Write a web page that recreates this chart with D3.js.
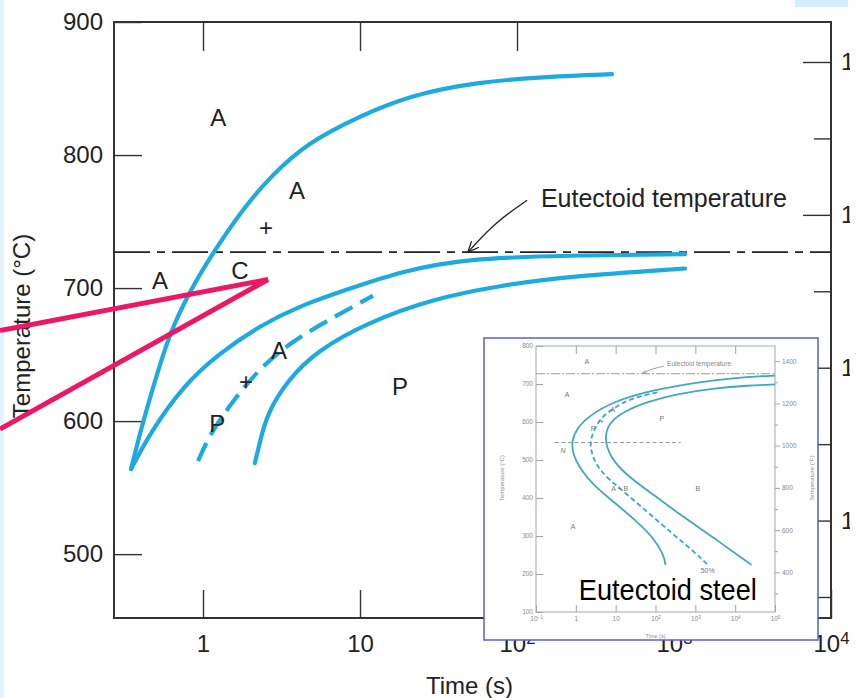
<!DOCTYPE html>
<html>
<head>
<meta charset="utf-8">
<script src="https://cdn.jsdelivr.net/npm/d3@7"></script>
<style>
body { margin: 0; background: #fff; }
svg { display: block; font-family: "Liberation Sans", Arial, sans-serif; }
</style>
</head>
<body>
<div id="chart"></div>
<script>
// main diagram: [time (s), temperature (°C)]
var upperCurve = [[0.348,564],[0.415,600],[0.517,637.7],[0.616,666.5],[0.826,698.2],[1.192,729],[1.85,761.5],
  [2.75,785],[4.6,809],[9.85,829],[20.8,845],[57.3,855],[157,859],[403,860.8]];
var startCurve = [[0.348,564],[0.46,591],[0.746,626.6],[1.283,651.4],[2.31,671.8],[4.15,686.8],[8.64,699.6],
  [18,712.4],[48,722.2],[208,724.5],[1175,725.5]];
var finishCurve = [[2.14,568.5],[2.31,585],[2.56,605.5],[3.43,630.3],[5.32,652.9],[11.1,674],[29.2,692],
  [78,701.9],[208,708.7],[1175,714.7]];
var halfCurve = [[0.93,570],[1.108,590.4],[1.553,615.3],[2.31,640.1],[3.74,660.5],[6.73,677.8],[12.1,694.3]];
var eutectoidTemp = 727;
var yTicks = [900, 800, 700, 600, 500];
var xTicks = [1, 10, 100, 1000, 10000];
var topTicks = [1, 10, 100];
var fMajor = [1600, 1400, 1200, 1000];
var fMinor = [1500, 1300, 1100, 900];
var regionLabels = [["A",1.25,828.4],["A",3.97,773.4],["+",2.52,745.6],["A",0.532,705.6],["C",1.72,713.2],
  ["A",3.05,653],["+",1.88,629.6],["P",1.23,598],["P",18,625.8]];
var eutLabel = [142, 767.4];
var eutArrow = [[116,766],[72.4,749.3],[48.7,727]];
var pinkPointer = [[0.0509,668],[2.59,706.4],[0.0509,594]];

// inset (TTT diagram, eutectoid steel)
var inStart = [[1e5,722],[2.1e4,719],[3020,710.5],[427,697],[61.7,680],[8.8,653.5],[2.26,618],[1.04,583],
  [0.776,548],[0.855,513],[1.26,478],[2.75,434],[8.8,390],[34.7,338],[91,294],[162,250],[178,224]];
var inHalf = [[110,678],[23.4,662],[8.8,636],[4.07,610],[2.75,574.5],[2.26,548],[2.51,513],[4.07,469],
  [12.9,425],[61.7,364],[288,303],[933,259],[2040,224]];
var inFinish = [[1e5,699],[2.1e4,696],[3020,689],[427,675.5],[61.7,653.5],[15.8,627],[7.24,601],[5.37,566],
  [6.03,531],[8.8,496],[23.4,452],[91,408],[427,355],[3020,294],[25700,224]];
var inNoseLine = [[0.3,546],[430,546]];
var inYTicks = [100,200,300,400,500,600,700,800];
var inXTicks = [0.1,1,10,100,1000,10000,100000];
var inFMajor = [400,600,800,1000,1200,1400];
var inFMinor = [300,500,700,900,1100,1300];
var inLabels = [["A",1.9,758],["A",0.6,671],["P",2.7,584],["+",4.5,600],["A",8.5,632],["P",145,610],
  ["N",0.48,526],["A + B",12.6,426],["B",1150,426],["A",0.85,326],["50%",2040,208]];
var inEutLabel = [195, 753];
var inEutArrow = [[162,747],[90,741],[48,729]];
var inTitle = [204, 131];

var W = 856, H = 698;
var svg = d3.select("#chart").append("svg").attr("width", W).attr("height", H);

// slide remnants
svg.append("rect").attr("x",0).attr("y",0).attr("width",4).attr("height",H).attr("fill","#e2f4fb");
svg.append("rect").attr("x",795).attr("y",0).attr("width",53).attr("height",7).attr("fill","#d6f0fb");

var defs = svg.append("defs");
defs.append("clipPath").attr("id","pageclip").append("rect").attr("x",0).attr("y",0).attr("width",850).attr("height",H);
defs.append("marker").attr("id","arr").attr("viewBox","0 0 12 10").attr("refX",11).attr("refY",5)
  .attr("markerWidth",12).attr("markerHeight",10).attr("markerUnits","userSpaceOnUse").attr("orient","auto")
  .append("path").attr("d","M0,0 L11,5 L0,10").attr("fill","none").attr("stroke","#222").attr("stroke-width",1.3);
defs.append("marker").attr("id","arrs").attr("viewBox","0 0 12 10").attr("refX",11).attr("refY",5)
  .attr("markerWidth",5).attr("markerHeight",4).attr("markerUnits","userSpaceOnUse").attr("orient","auto")
  .append("path").attr("d","M0,0 L11,5 L0,10").attr("fill","none").attr("stroke","#888").attr("stroke-width",1.5);

var x = d3.scaleLog().domain([0.271, 10000]).range([114, 831]);
var y = d3.scaleLinear().domain([900, 452]).range([22, 618]);
var fy = d3.scaleLinear().domain([1600, 900]).range([62, 597]);

var line = d3.line().x(function(d){ return x(d[0]); }).y(function(d){ return y(d[1]); })
  .curve(d3.curveBasis);

function supText(sel) {
  sel.each(function(d) {
    var e = Math.round(Math.log10(d));
    var t = d3.select(this);
    if (e >= 2 || e < 0) {
      t.text("10");
      t.append("tspan").attr("dy","-0.45em").attr("font-size","0.7em").text(e < 0 ? "\u2212" + (-e) : e);
    }
  });
}

// axes
var main = svg.append("g").attr("class","main");
var gl = main.append("g").attr("transform","translate(" + x.range()[0] + ",0)")
  .call(d3.axisLeft(y).tickValues(yTicks).tickSize(-28).tickSizeOuter(0).tickPadding(11));
var gb = main.append("g").attr("transform","translate(0," + y.range()[1] + ")")
  .call(d3.axisBottom(x).tickValues(xTicks).tickSize(-28).tickSizeOuter(0).tickPadding(17)
  .tickFormat(d3.format("d")));
gb.selectAll(".tick text").call(supText);
var gt = main.append("g").attr("transform","translate(0," + y.range()[0] + ")")
  .call(d3.axisTop(x).tickValues(topTicks).tickSize(-29).tickSizeOuter(0).tickFormat(""));
// Fahrenheit labels run off the right edge of the slide
var gr = main.append("g").attr("clip-path","url(#pageclip)").append("g")
  .attr("transform","translate(" + x.range()[1] + ",0)")
  .call(d3.axisRight(fy).tickValues(fMajor).tickSize(-28).tickSizeOuter(0).tickPadding(10)
  .tickFormat(d3.format("d")));
var gr2 = main.append("g").attr("transform","translate(" + x.range()[1] + ",0)")
  .call(d3.axisRight(fy).tickValues(fMinor).tickSize(-17).tickSizeOuter(0).tickFormat(""));
[gl, gb, gt, gr, gr2].forEach(function(g){
  g.select(".domain").remove();
  g.selectAll(".tick line").attr("stroke","#333").attr("stroke-width",1.4);
  g.selectAll(".tick text").attr("font-size",24).attr("fill","#222").attr("font-family","Liberation Sans, Arial, sans-serif");
});

main.append("rect").attr("x",x.range()[0]).attr("y",y.range()[0])
  .attr("width",x.range()[1]-x.range()[0]).attr("height",y.range()[1]-y.range()[0])
  .attr("fill","none").attr("stroke","#333").attr("stroke-width",2);

main.append("text").attr("x",(x.range()[0]+x.range()[1])/2 - 3).attr("y",694).attr("text-anchor","middle")
  .attr("font-size",24).attr("fill","#222").text("Time (s)");
main.append("text").attr("transform","translate(30," + 326 + ") rotate(-90)").attr("text-anchor","middle")
  .attr("font-size",24).attr("fill","#222").text("Temperature (\u00B0C)");

// eutectoid line
main.append("path").attr("d", d3.line()([[x.range()[0], y(eutectoidTemp)],[x.range()[1], y(eutectoidTemp)]]))
  .attr("stroke","#222").attr("stroke-width",1.6).attr("stroke-dasharray","36,7,8,7");

// curves
var blue = "#1caae0";
[upperCurve, startCurve, finishCurve].forEach(function(c){
  main.append("path").attr("d", line(c)).attr("fill","none").attr("stroke",blue)
    .attr("stroke-width",4.2).attr("stroke-linecap","round");
});
main.append("path").attr("d", line(halfCurve)).attr("fill","none").attr("stroke",blue)
  .attr("stroke-width",4.2).attr("stroke-dasharray","20,9");

main.selectAll("text.reg").data(regionLabels).enter().append("text").attr("class","reg")
  .attr("x", function(d){ return x(d[1]); }).attr("y", function(d){ return y(d[2]); })
  .attr("dy","0.36em").attr("text-anchor","middle").attr("font-size",24).attr("fill","#222")
  .text(function(d){ return d[0]; });

main.append("text").attr("x",x(eutLabel[0])).attr("y",y(eutLabel[1])).attr("dy","0.36em")
  .attr("font-size",25).attr("fill","#222").text("Eutectoid temperature");
main.append("path").attr("d", d3.line().x(function(d){return x(d[0]);}).y(function(d){return y(d[1]);})
  .curve(d3.curveBasis)(eutArrow)).attr("fill","none").attr("stroke","#222").attr("stroke-width",1.3)
  .attr("marker-end","url(#arr)");

// pink pointer
main.append("path").attr("d", d3.line().x(function(d){return x(d[0]);}).y(function(d){return y(d[1]);})(pinkPointer))
  .attr("fill","none").attr("stroke","#ec1865").attr("stroke-width",5).attr("stroke-linejoin","miter");

// ---------- inset ----------
var inset = svg.append("g").attr("class","inset");
inset.append("rect").attr("x",484).attr("y",338).attr("width",334).attr("height",302)
  .attr("fill","#fff").attr("stroke","#5a5adf").attr("stroke-width",1.5);

var ix = d3.scaleLog().domain([0.1, 1e5]).range([536, 775]);
var iy = d3.scaleLinear().domain([100, 800]).range([612, 346]);
var ify = d3.scaleLinear().domain([100*9/5+32, 800*9/5+32]).range(iy.range());
var iline = d3.line().x(function(d){ return ix(d[0]); }).y(function(d){ return iy(d[1]); })
  .curve(d3.curveBasis);
var grey = "#8a8a8a";

var il = inset.append("g").attr("transform","translate(" + ix.range()[0] + ",0)")
  .call(d3.axisLeft(iy).tickValues(inYTicks).tickSize(-7).tickSizeOuter(0).tickPadding(3));
var ib = inset.append("g").attr("transform","translate(0," + iy.range()[0] + ")")
  .call(d3.axisBottom(ix).tickValues(inXTicks).tickSize(-7).tickSizeOuter(0).tickPadding(4)
  .tickFormat(d3.format("d")));
ib.selectAll(".tick text").call(supText);
var itop = inset.append("g").attr("transform","translate(0," + iy.range()[1] + ")")
  .call(d3.axisTop(ix).tickValues(inXTicks.slice(1, 6)).tickSize(-8).tickSizeOuter(0).tickFormat(""));
var ir = inset.append("g").attr("transform","translate(" + ix.range()[1] + ",0)")
  .call(d3.axisRight(ify).tickValues(inFMajor).tickSize(5).tickSizeOuter(0).tickPadding(2)
  .tickFormat(d3.format("d")));
var ir2 = inset.append("g").attr("transform","translate(" + ix.range()[1] + ",0)")
  .call(d3.axisRight(ify).tickValues(inFMinor).tickSize(3).tickSizeOuter(0).tickFormat(""));
[il, ib, itop, ir, ir2].forEach(function(g){
  g.select(".domain").remove();
  g.selectAll(".tick line").attr("stroke","#999").attr("stroke-width",0.9);
  g.selectAll(".tick text").attr("font-size",6.5).attr("fill",grey).attr("font-family","Liberation Sans, Arial, sans-serif");
});
il.selectAll(".tick text").attr("dy","0.2em");
inset.append("rect").attr("x",ix.range()[0]).attr("y",iy.range()[1])
  .attr("width",ix.range()[1]-ix.range()[0]).attr("height",iy.range()[0]-iy.range()[1])
  .attr("fill","none").attr("stroke","#a5a5a5").attr("stroke-width",1);

inset.append("text").attr("transform","translate(504,478) rotate(-90)").attr("text-anchor","middle")
  .attr("font-size",6).attr("fill",grey).text("Temperature (\u00B0C)");
inset.append("text").attr("transform","translate(814,478) rotate(-90)").attr("text-anchor","middle")
  .attr("font-size",6).attr("fill",grey).text("Temperature (\u00B0F)");
inset.append("text").attr("x",(ix.range()[0]+ix.range()[1])/2).attr("y",637.5).attr("text-anchor","middle")
  .attr("font-size",5.5).attr("fill",grey).text("Time (s)");

inset.append("path").attr("d", iline([[ix.domain()[0],eutectoidTemp],[ix.domain()[1],eutectoidTemp]]))
  .attr("stroke","#999").attr("stroke-width",1).attr("stroke-dasharray","9,2,2,2");
inset.append("path").attr("d", iline(inNoseLine)).attr("stroke","#999").attr("stroke-width",1)
  .attr("stroke-dasharray","4,2.5");

var teal = "#3ea8c6";
[inStart, inFinish].forEach(function(c){
  inset.append("path").attr("d", iline(c)).attr("fill","none").attr("stroke",teal).attr("stroke-width",1.8);
});
inset.append("path").attr("d", iline(inHalf)).attr("fill","none").attr("stroke",teal)
  .attr("stroke-width",1.8).attr("stroke-dasharray","5,3");

inset.selectAll("text.ilab").data(inLabels).enter().append("text").attr("class","ilab")
  .attr("x", function(d){ return ix(d[1]); }).attr("y", function(d){ return iy(d[2]); })
  .attr("dy","0.35em").attr("text-anchor","middle").attr("font-size",7).attr("fill","#777")
  .attr("font-style", function(d){ return d[0] === "N" ? "italic" : null; })
  .text(function(d){ return d[0]; });
inset.append("text").attr("x",ix(inEutLabel[0])).attr("y",iy(inEutLabel[1])).attr("dy","0.35em")
  .attr("font-size",6.5).attr("fill","#888").text("Eutectoid temperature");
inset.append("path").attr("d", d3.line().x(function(d){return ix(d[0]);}).y(function(d){return iy(d[1]);})
  .curve(d3.curveBasis)(inEutArrow)).attr("fill","none").attr("stroke","#888").attr("stroke-width",0.8)
  .attr("marker-end","url(#arrs)");

inset.append("text").attr("x",ix(inTitle[0])).attr("y",iy(inTitle[1])).attr("text-anchor","middle")
  .attr("font-size",29).attr("textLength",178).attr("lengthAdjust","spacingAndGlyphs")
  .attr("fill","#000").text("Eutectoid steel");
</script>
</body>
</html>
